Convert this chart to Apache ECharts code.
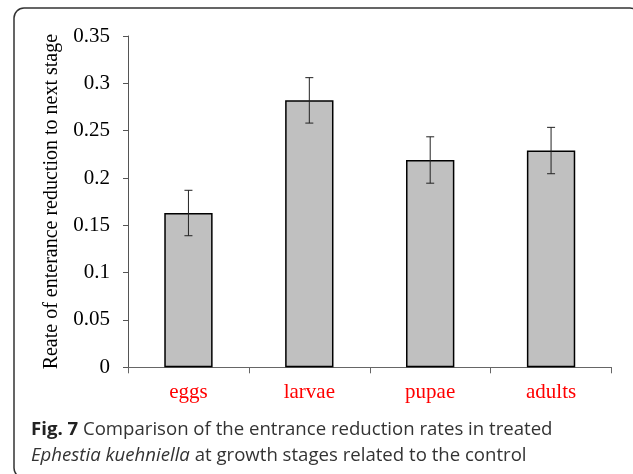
<!DOCTYPE html>
<html>
<head>
<meta charset="utf-8">
<script src="https://cdn.jsdelivr.net/npm/echarts@6/dist/echarts.min.js"></script>
<style>
html,body{margin:0;padding:0;background:#fff;}
#c{width:633px;height:474px;}
</style>
</head>
<body>
<div id="c"></div>
<script>
const categories = ['eggs', 'larvae', 'pupae', 'adults'];
const values = [0.163, 0.282, 0.219, 0.229];
const errors = [0.024, 0.024, 0.0245, 0.0245];
const yTickLabels = ['0', '0.05', '0.1', '0.15', '0.2', '0.25', '0.3', '0.35'];
const yAxisTitle = 'Reate of enterance reduction to next stage';
const captionLine1 = ['Fig. 7', ' Comparison of the entrance reduction rates in treated'];
const captionLine2 = ['Ephestia kuehniella', ' at growth stages related to the control'];

const chart = echarts.init(document.getElementById('c'), null, {renderer: 'canvas'});
const serif = '"Liberation Serif", "Times New Roman", serif';

const errData = categories.map((c, i) => [i, values[i] - errors[i], values[i] + errors[i]]);

chart.setOption({
  animation: false,
  backgroundColor: '#fff',
  grid: {left: 128, right: 21.5, top: 36, bottom: 106.7, containLabel: false},
  xAxis: {
    type: 'category',
    data: categories,
    axisLine: {lineStyle: {color: '#666', width: 1}},
    axisTick: {show: true, length: 6, lineStyle: {color: '#666'}},
    axisLabel: {color: '#ff0000', fontFamily: serif, fontSize: 21, margin: 15}
  },
  yAxis: {
    type: 'value',
    min: 0, max: 0.35, interval: 0.05,
    name: yAxisTitle,
    nameLocation: 'middle',
    nameGap: 66,
    nameRotate: 90,
    nameTextStyle: {color: '#000', fontFamily: serif, fontSize: 20},
    axisLine: {show: true, lineStyle: {color: '#555', width: 1}},
    axisTick: {show: true, length: 5, lineStyle: {color: '#555'}},
    splitLine: {show: false},
    axisLabel: {
      color: '#000', fontFamily: serif, fontSize: 21, margin: 18,
      formatter: (v) => yTickLabels[Math.round(v / 0.05)]
    }
  },
  series: [
    {
      type: 'bar',
      data: values,
      barWidth: '40%',
      itemStyle: {color: '#c0c0c0', borderColor: '#000', borderWidth: 1.5}
    },
    {
      type: 'custom',
      data: errData,
      z: 10,
      renderItem: function (params, api) {
        const x = api.value(0);
        const lo = api.coord([x, api.value(1)]);
        const hi = api.coord([x, api.value(2)]);
        const hw = 4;
        const st = {stroke: '#222', lineWidth: 1};
        return {
          type: 'group',
          children: [
            {type: 'line', shape: {x1: lo[0], y1: lo[1], x2: hi[0], y2: hi[1]}, style: st},
            {type: 'line', shape: {x1: lo[0] - hw, y1: lo[1], x2: lo[0] + hw, y2: lo[1]}, style: st},
            {type: 'line', shape: {x1: hi[0] - hw, y1: hi[1], x2: hi[0] + hw, y2: hi[1]}, style: st}
          ]
        };
      }
    }
  ],
  graphic: [
    {
      type: 'rect',
      shape: {x: 14, y: 8, width: 626, height: 470, r: 10},
      style: {fill: 'none', stroke: '#333', lineWidth: 1.5},
      silent: true
    },
    {
      type: 'text',
      x: 31, y: 430,
      style: {
        text: '{b|' + captionLine1[0] + '}' + captionLine1[1],
        font: '18.6px "Open Sans"',
        fill: '#333',
        verticalAlign: 'middle',
        rich: {b: {fontWeight: 'bold', fontFamily: 'Open Sans', fontSize: 18.6, fill: '#222'}}
      }
    },
    {
      type: 'text',
      x: 31, y: 456,
      style: {
        text: '{i|' + captionLine2[0] + '}' + captionLine2[1],
        font: '18.6px "Open Sans"',
        fill: '#333',
        verticalAlign: 'middle',
        rich: {i: {fontStyle: 'italic', fontFamily: 'Open Sans', fontSize: 18.6, fill: '#333'}}
      }
    }
  ]
});
</script>
</body>
</html>
